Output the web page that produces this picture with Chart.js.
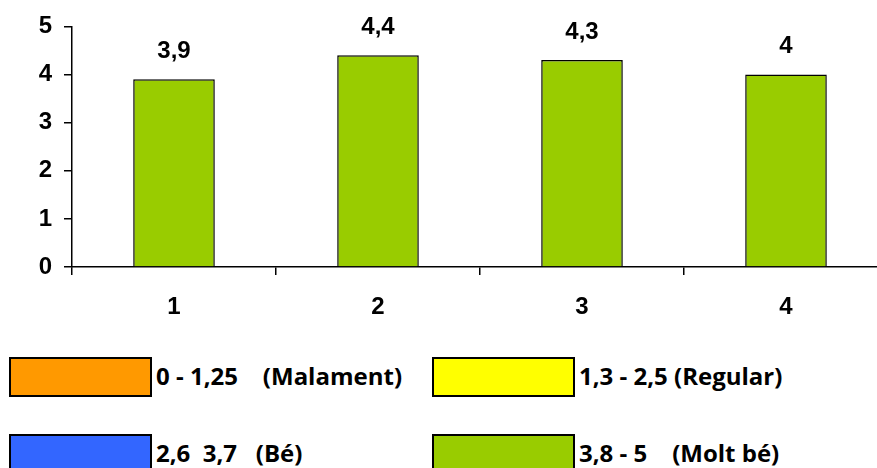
<!DOCTYPE html>
<html>
<head>
<meta charset="utf-8">
<script src="https://cdn.jsdelivr.net/npm/chart.js@4"></script>
<style>
  html, body { margin: 0; padding: 0; background: #fff; width: 877px; height: 468px; overflow: hidden; position: relative; }
  #wrap { position: absolute; left: 0; top: 0; width: 888px; height: 330px; }
  .lg { position: absolute; display: flex; align-items: center; font-family: "Open Sans", sans-serif; font-weight: bold; font-size: 24px; color: #000; white-space: pre; }
  .lg span { position: relative; top: -2px; }
  .lg .box { width: 139px; height: 36px; border: 2px solid #000; margin-right: 4px; box-sizing: content-box; }
</style>
</head>
<body>
<div id="wrap"><canvas id="c" width="888" height="330"></canvas></div>
<div id="legend"></div>
<script>
const categories = ["1", "2", "3", "4"];
const values = [3.9, 4.4, 4.3, 4.0];
const valueLabels = ["3,9", "4,4", "4,3", "4"];
const yTicks = [0, 1, 2, 3, 4, 5];
const legendLabels = ["0 - 1,25    (Malament)", "1,3 - 2,5 (Regular)", "2,6  3,7   (Bé)", "3,8 - 5    (Molt bé)"];
const legendColors = ["#FF9900", "#FFFF00", "#3366FF", "#99CC00"];

const legendPos = [[9, 357], [432, 357], [9, 434], [432, 434]];
const lgRoot = document.getElementById('legend');
legendLabels.forEach((t, i) => {
  const d = document.createElement('div');
  d.className = 'lg';
  d.style.left = legendPos[i][0] + 'px';
  d.style.top = legendPos[i][1] + 'px';
  const b = document.createElement('div');
  b.className = 'box';
  b.style.background = legendColors[i];
  const s = document.createElement('span');
  s.textContent = t;
  d.appendChild(b); d.appendChild(s);
  lgRoot.appendChild(d);
});

const FONT = { family: "Arial, 'Liberation Sans', sans-serif", size: 24, weight: 'bold' };

const valueLabelPlugin = {
  id: 'valueLabels',
  afterDatasetsDraw(chart) {
    const ctx = chart.ctx;
    const meta = chart.getDatasetMeta(0);
    ctx.save();
    ctx.font = `bold ${FONT.size}px ${FONT.family}`;
    ctx.fillStyle = '#000';
    ctx.textAlign = 'center';
    ctx.textBaseline = 'middle';
    meta.data.forEach((bar, i) => {
      ctx.fillText(valueLabels[i], bar.x, bar.y - 28);
    });
    ctx.restore();
  }
};

new Chart(document.getElementById('c'), {
  type: 'bar',
  data: {
    labels: categories,
    datasets: [{
      data: values,
      backgroundColor: '#99CC00',
      borderColor: '#000',
      borderWidth: 1.5,
      barPercentage: 0.4,
      categoryPercentage: 1.0
    }]
  },
  options: {
    responsive: false,
    animation: false,
    layout: { padding: { top: 25, left: 0, right: 0, bottom: 0 } },
    plugins: { legend: { display: false }, tooltip: { enabled: false } },
    scales: {
      x: {
        grid: { display: true, drawOnChartArea: false, drawTicks: true, tickLength: 8, offset: true, color: '#000', lineWidth: 1.5 },
        border: { display: true, color: '#000', width: 1.5 },
        ticks: { color: '#000', font: FONT, padding: 18 },
        afterFit(scale) { scale.height = 63; }
      },
      y: {
        min: 0, max: 5,
        afterBuildTicks(scale) { scale.ticks = yTicks.map(v => ({ value: v })); },
        grid: { display: true, drawOnChartArea: false, drawTicks: true, tickLength: 8, color: '#000', lineWidth: 1.5 },
        border: { display: true, color: '#000', width: 1.5 },
        ticks: { color: '#000', font: FONT, padding: 12 },
        afterFit(scale) { scale.width = 72; }
      }
    }
  },
  plugins: [valueLabelPlugin]
});
</script>
</body>
</html>
